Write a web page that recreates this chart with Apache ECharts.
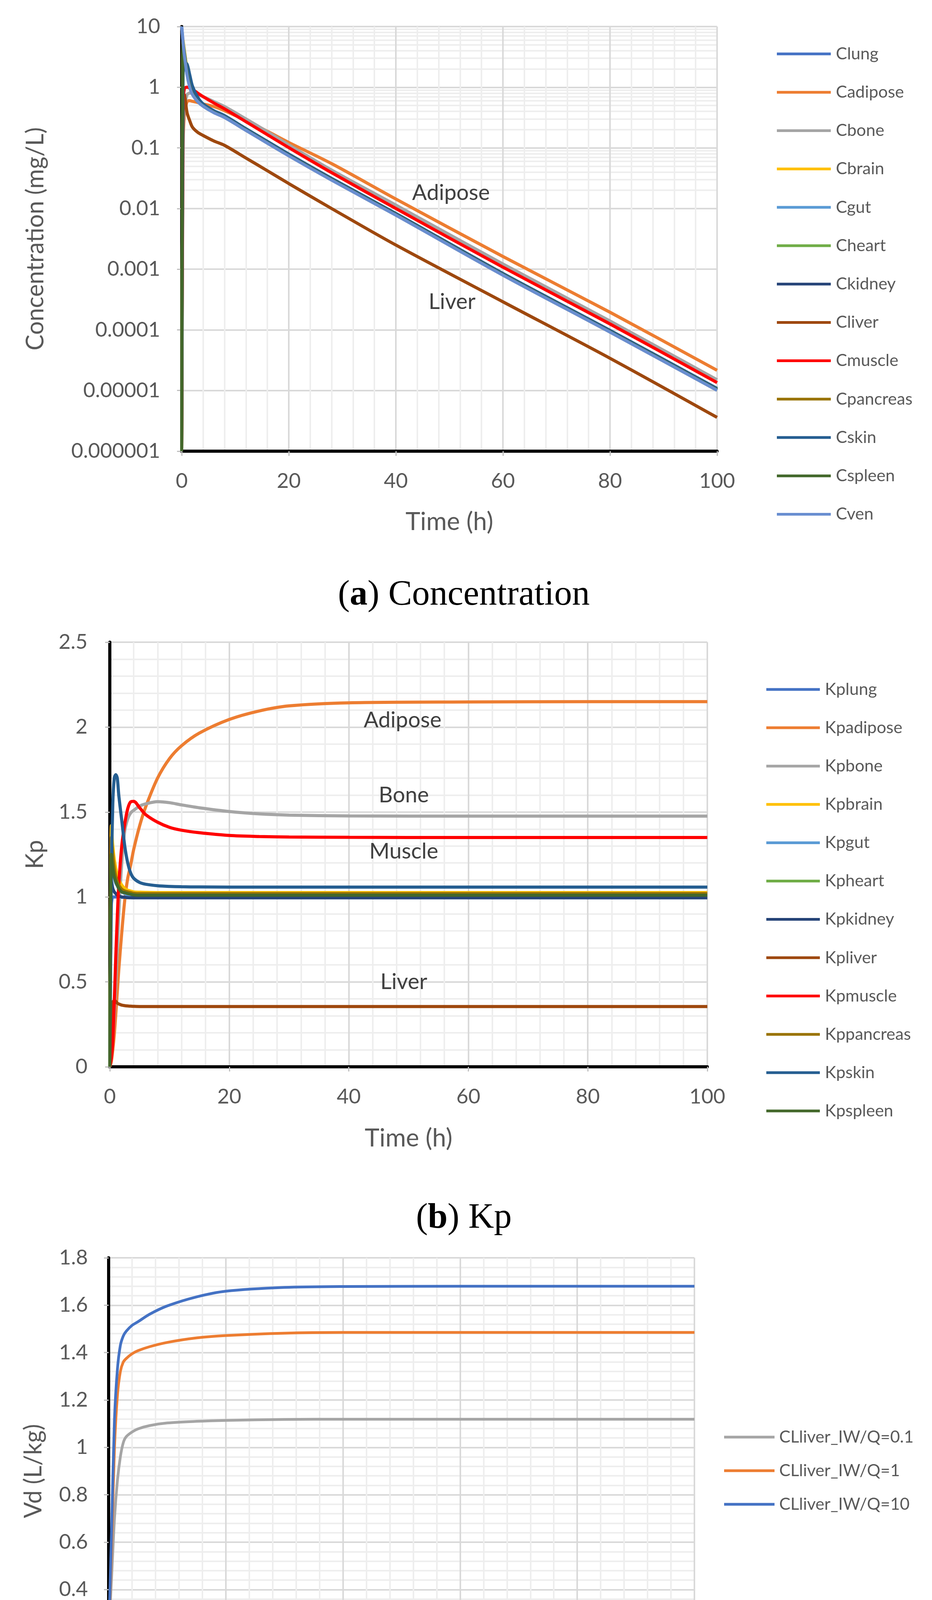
<!DOCTYPE html>
<html>
<head>
<meta charset="utf-8">
<script src="https://cdn.jsdelivr.net/npm/echarts@6/dist/echarts.min.js"></script>
<style>
html,body{margin:0;padding:0;background:#ffffff;}
#chart{width:2385px;height:4744px;}
</style>
</head>
<body>
<div id="chart"></div>
<script>
// ---------- Panel (a) Concentration ----------
const timeA = [0, 0.25, 0.5, 1, 1.5, 2, 3, 4, 6, 8, 12, 16, 20, 28, 40, 60, 80, 100];
const Clung     = [10, 5.6, 3.5, 1.65, 1.02, 0.77, 0.585, 0.49, 0.385, 0.32, 0.197, 0.121, 0.075, 0.0298, 0.0079, 0.00081, 0.000093, 0.0000102];
const Cadipose  = [0.000001, 0.1, 0.35, 0.58, 0.6, 0.585, 0.56, 0.53, 0.48, 0.41, 0.281, 0.1875, 0.1227, 0.055, 0.01435, 0.00162, 0.000195, 0.0000215];
const Cbone     = [0.000001, 0.15, 0.45, 0.75, 0.8, 0.8, 0.75, 0.7, 0.58, 0.48, 0.3, 0.185, 0.112, 0.043, 0.0114, 0.00122, 0.00014, 0.000015];
const Cbrain    = [0.000001, 6.0, 4.0, 1.9, 1.12, 0.8, 0.6, 0.5, 0.392, 0.327, 0.201, 0.124, 0.0765, 0.0304, 0.0081, 0.00083, 0.000095, 0.0000105];
const Cgut      = [0.000001, 4.5, 3.2, 1.7, 1.05, 0.78, 0.59, 0.492, 0.386, 0.321, 0.197, 0.121, 0.075, 0.0298, 0.0079, 0.00081, 0.000093, 0.0000102];
const Cheart    = [0.000001, 5.5, 3.8, 1.85, 1.1, 0.79, 0.595, 0.496, 0.39, 0.325, 0.2, 0.123, 0.076, 0.0302, 0.008, 0.00082, 0.000094, 0.0000104];
const Ckidney   = [0.000001, 5.0, 3.5, 1.7, 1.03, 0.77, 0.58, 0.488, 0.383, 0.318, 0.195, 0.12, 0.0745, 0.0296, 0.0078, 0.0008, 0.000092, 0.0000101];
const Cliver    = [0.000001, 0.3, 0.75, 0.38, 0.28, 0.22, 0.18, 0.16, 0.13, 0.11, 0.068, 0.042, 0.0258, 0.01, 0.0025, 0.00029, 0.000034, 0.0000036];
const Cmuscle   = [0.000001, 0.5, 0.95, 1.0, 0.97, 0.92, 0.8, 0.7, 0.55, 0.44, 0.27, 0.165, 0.101, 0.039, 0.01, 0.00108, 0.000125, 0.0000135];
const Cpancreas = [0.000001, 5.2, 3.7, 1.82, 1.08, 0.785, 0.592, 0.494, 0.389, 0.324, 0.199, 0.122, 0.0758, 0.0301, 0.00798, 0.00082, 0.000094, 0.0000103];
const Cskin     = [0.000001, 1.5, 2.6, 2.4, 1.6, 1.05, 0.68, 0.53, 0.41, 0.34, 0.207, 0.128, 0.079, 0.0314, 0.0083, 0.00085, 0.000098, 0.0000108];
const Cspleen   = [0.000001, 5.0, 3.6, 1.78, 1.06, 0.78, 0.59, 0.492, 0.387, 0.322, 0.198, 0.122, 0.0752, 0.03, 0.00795, 0.000815, 0.0000935, 0.0000103];
const Cven      = [10, 5.5, 3.4, 1.6, 1.0, 0.76, 0.58, 0.487, 0.382, 0.318, 0.195, 0.12, 0.074, 0.0295, 0.0078, 0.0008, 0.000092, 0.0000101];
const namesA = ['Clung','Cadipose','Cbone','Cbrain','Cgut','Cheart','Ckidney','Cliver','Cmuscle','Cpancreas','Cskin','Cspleen','Cven'];
const valuesA = [Clung, Cadipose, Cbone, Cbrain, Cgut, Cheart, Ckidney, Cliver, Cmuscle, Cpancreas, Cskin, Cspleen, Cven];
const yTickLabelsA = ['0.000001','0.00001','0.0001','0.001','0.01','0.1','1','10'];
const notesA = [['Adipose', 50.3, 0.018], ['Liver', 50.5, 0.00029]];

// ---------- Panel (b) Kp ----------
const timeB = [0, 0.25, 0.5, 0.75, 1, 1.25, 1.5, 2, 2.5, 3, 3.5, 4, 5, 6, 8, 10, 12, 15, 20, 25, 30, 40, 60, 80, 100];
const Kplung     = [0, 0.95, 1.0, 1.0, 1.0, 1.0, 0.999, 0.998, 0.997, 0.996, 0.996, 0.995, 0.995, 0.995, 0.995, 0.995, 0.995, 0.995, 0.995, 0.995, 0.995, 0.995, 0.995, 0.995, 0.995];
const Kpadipose  = [0, 0.03, 0.1, 0.19, 0.31, 0.44, 0.57, 0.79, 0.98, 1.11, 1.19, 1.28, 1.42, 1.53, 1.7, 1.815, 1.89, 1.965, 2.045, 2.095, 2.125, 2.143, 2.148, 2.15, 2.15];
const Kpbone     = [0, 0.05, 0.15, 0.3, 0.5, 0.7, 0.9, 1.2, 1.39, 1.46, 1.495, 1.51, 1.535, 1.548, 1.561, 1.555, 1.542, 1.525, 1.503, 1.489, 1.482, 1.477, 1.476, 1.476, 1.476];
const Kpbrain    = [0, 1.42, 1.3, 1.22, 1.17, 1.13, 1.1, 1.07, 1.05, 1.04, 1.035, 1.03, 1.028, 1.027, 1.026, 1.026, 1.026, 1.026, 1.026, 1.026, 1.026, 1.026, 1.026, 1.026, 1.026];
const Kpgut      = [0, 1.2, 1.15, 1.11, 1.08, 1.065, 1.05, 1.03, 1.02, 1.01, 1.006, 1.004, 1.002, 1.0, 1.0, 1.0, 1.0, 1.0, 1.0, 1.0, 1.0, 1.0, 1.0, 1.0, 1.0];
const Kpheart    = [0, 1.3, 1.2, 1.14, 1.1, 1.08, 1.06, 1.04, 1.03, 1.025, 1.021, 1.018, 1.016, 1.015, 1.015, 1.015, 1.015, 1.015, 1.015, 1.015, 1.015, 1.015, 1.015, 1.015, 1.015];
const Kpkidney   = [0, 1.1, 1.05, 1.03, 1.02, 1.01, 1.005, 1.0, 0.998, 0.996, 0.995, 0.995, 0.995, 0.995, 0.995, 0.995, 0.995, 0.995, 0.995, 0.995, 0.995, 0.995, 0.995, 0.995, 0.995];
const Kpliver    = [0, 0.3, 0.38, 0.39, 0.385, 0.375, 0.37, 0.363, 0.36, 0.358, 0.357, 0.356, 0.355, 0.355, 0.355, 0.355, 0.355, 0.355, 0.355, 0.355, 0.355, 0.355, 0.355, 0.355, 0.355];
const Kpmuscle   = [0, 0.05, 0.15, 0.38, 0.65, 0.88, 1.07, 1.3, 1.43, 1.52, 1.56, 1.563, 1.525, 1.485, 1.44, 1.41, 1.393, 1.378, 1.362, 1.356, 1.353, 1.351, 1.35, 1.35, 1.35];
const Kppancreas = [0, 1.35, 1.25, 1.17, 1.12, 1.09, 1.07, 1.045, 1.035, 1.03, 1.026, 1.022, 1.02, 1.02, 1.02, 1.02, 1.02, 1.02, 1.02, 1.02, 1.02, 1.02, 1.02, 1.02, 1.02];
const Kpskin     = [0, 1.1, 1.55, 1.7, 1.72, 1.7, 1.6, 1.45, 1.3, 1.2, 1.14, 1.11, 1.085, 1.075, 1.066, 1.062, 1.06, 1.059, 1.058, 1.058, 1.058, 1.058, 1.058, 1.058, 1.058];
const Kpspleen   = [0, 1.25, 1.17, 1.12, 1.09, 1.07, 1.05, 1.03, 1.025, 1.02, 1.016, 1.012, 1.01, 1.01, 1.01, 1.01, 1.01, 1.01, 1.01, 1.01, 1.01, 1.01, 1.01, 1.01, 1.01];
const namesB = ['Kplung','Kpadipose','Kpbone','Kpbrain','Kpgut','Kpheart','Kpkidney','Kpliver','Kpmuscle','Kppancreas','Kpskin','Kpspleen'];
const valuesB = [Kplung, Kpadipose, Kpbone, Kpbrain, Kpgut, Kpheart, Kpkidney, Kpliver, Kpmuscle, Kppancreas, Kpskin, Kpspleen];
const notesB = [['Adipose', 49.0, 2.04], ['Bone', 49.2, 1.598], ['Muscle', 49.2, 1.267], ['Liver', 49.2, 0.499]];

// ---------- Panel (c) Vd ----------
const timeC = [0, 0.5, 1, 1.5, 2, 2.5, 3, 4, 5, 7, 10, 15, 20, 30, 40, 60, 80, 100];
const VdQ01 = [0.2, 0.45, 0.7, 0.86, 0.96, 1.02, 1.045, 1.065, 1.078, 1.092, 1.103, 1.11, 1.114, 1.118, 1.119, 1.119, 1.119, 1.119];
const VdQ1  = [0.2, 0.58, 1.0, 1.22, 1.32, 1.36, 1.375, 1.395, 1.408, 1.425, 1.443, 1.462, 1.472, 1.482, 1.485, 1.485, 1.485, 1.485];
const VdQ10 = [0.2, 0.65, 1.12, 1.33, 1.43, 1.47, 1.49, 1.515, 1.53, 1.562, 1.597, 1.635, 1.659, 1.675, 1.679, 1.68, 1.68, 1.68];
const namesC = ['CLliver_IW/Q=0.1','CLliver_IW/Q=1','CLliver_IW/Q=10'];
const valuesC = [VdQ01, VdQ1, VdQ10];

// ---------- styling ----------
const colorsA = ['#4472C4','#ED7D31','#A5A5A5','#FFC000','#5B9BD5','#70AD47','#264478','#9E480E','#FF0000','#997300','#255E91','#43682B','#698ED0'];
const colorsB = colorsA.slice(0, 12);
const colorsC = ['#A5A5A5','#ED7D31','#4472C4'];

const FONT = 'Lato';
const GRAY_TXT = '#595959';
const MAJOR = '#d9d9d9';
const MINOR = '#eeeeee';

function zip(t, v) { return t.map((x, i) => [x, v[i]]); }

const logMinor = [];
for (let e = -6; e <= 0; e++) { for (let k = 2; k <= 9; k++) { logMinor.push(+(k * Math.pow(10, e)).toPrecision(3)); } }

function xAxisCfg(gridIndex, gap) {
  return {
    type: 'value', gridIndex: gridIndex, min: 0, max: 100, interval: 20,
    name: 'Time (h)', nameLocation: 'middle', nameGap: gap,
    nameTextStyle: {fontFamily: FONT, fontSize: 64, color: GRAY_TXT},
    axisLine: {show: true, onZero: false, lineStyle: {color: '#000', width: 8}},
    axisTick: {show: true, length: 12, lineStyle: {color: '#bfbfbf', width: 3}},
    axisLabel: {fontFamily: FONT, fontSize: 53, color: GRAY_TXT, margin: 50},
    splitLine: {show: true, lineStyle: {color: MAJOR, width: 4}},
    minorTick: {show: false, splitNumber: 5},
    minorSplitLine: {show: true, lineStyle: {color: MINOR, width: 4}},
    z: 2
  };
}

function lineSeries(name, t, v, color, xi, width) {
  return {
    name: name, type: 'line', xAxisIndex: xi, yAxisIndex: xi,
    data: zip(t, v), showSymbol: false, symbol: 'none', smooth: 0.3,
    lineStyle: {color: color, width: width}, itemStyle: {color: color},
    emphasis: {disabled: true}, z: 3, animation: false
  };
}

function notesSeries(xi, notes, withMinor) {
  const s = {
    type: 'line', xAxisIndex: xi, yAxisIndex: xi, data: [], silent: true,
    showSymbol: false, symbol: 'none', lineStyle: {opacity: 0}, z: 4,
    markPoint: {
      silent: true, symbol: 'circle', symbolSize: 0, itemStyle: {color: 'transparent'},
      label: {show: true, position: 'inside', formatter: '{b}', fontFamily: FONT, fontSize: 56, color: '#404040'},
      data: notes.map(n => ({name: n[0], coord: [n[1], n[2]]})), z: 4
    }
  };
  if (withMinor) {
    s.markLine = {
      silent: true, symbol: ['none', 'none'], z: 1, animation: false,
      label: {show: false}, emphasis: {disabled: true},
      lineStyle: {color: MINOR, width: 4, type: 'solid'},
      data: logMinor.map(v => ({yAxis: v}))
    };
  }
  return s;
}

function legendCfg(names, left, top, gap, width, pad, fontSize) {
  return {
    data: names, orient: 'vertical', left: left, top: top, icon: 'rect',
    itemWidth: width, itemHeight: 7, itemGap: gap, selectedMode: false,
    textStyle: {fontFamily: FONT, fontSize: fontSize, color: GRAY_TXT, lineHeight: 50, padding: [0, 0, 0, pad]}
  };
}

const series = [];
namesA.forEach((n, i) => series.push(lineSeries(n, timeA, valuesA[i], colorsA[i], 0, 8)));
series.push(notesSeries(0, notesA, true));
namesB.forEach((n, i) => series.push(lineSeries(n, timeB, valuesB[i], colorsB[i], 1, 8)));
series.push(notesSeries(1, notesB, false));
namesC.forEach((n, i) => series.push(lineSeries(n, timeC, valuesC[i], colorsC[i], 2, 7)));

const capStyle = {fontFamily: 'Liberation Serif', fontSize: 91, color: '#000', fontWeight: 'normal'};
function caption(letter, rest, top) {
  return {
    text: '(' + '{b|' + letter + '}) ' + rest, left: 1182, top: top, textAlign: 'center',
    textStyle: Object.assign({}, capStyle, {rich: {b: Object.assign({}, capStyle, {fontWeight: 'bold'})}})
  };
}

const option = {
  animation: false,
  backgroundColor: '#ffffff',
  title: [caption('a', 'Concentration', 1474), caption('b', 'Kp', 3069), caption('c', 'Vd', 4631)],
  grid: [
    {left: 465, top: 68, width: 1370, height: 1087, containLabel: false},
    {left: 281, top: 1644, width: 1529, height: 1087, containLabel: false},
    {left: 278, top: 3220, width: 1499, height: 1092, containLabel: false}
  ],
  xAxis: [xAxisCfg(0, 149), xAxisCfg(1, 151), xAxisCfg(2, 146)],
  yAxis: [
    {
      type: 'log', logBase: 10, gridIndex: 0, min: 0.000001, max: 10, splitNumber: 7,
      name: 'Concentration (mg/L)', nameLocation: 'middle', nameGap: 343,
      nameTextStyle: {fontFamily: FONT, fontSize: 61, color: GRAY_TXT},
      axisLine: {show: true, onZero: false, lineStyle: {color: '#000', width: 8}},
      axisTick: {show: true, length: 12, lineStyle: {color: '#bfbfbf', width: 3}},
      axisLabel: {fontFamily: FONT, fontSize: 53, color: GRAY_TXT, margin: 55,
        formatter: v => yTickLabelsA[Math.round(Math.log10(v)) + 6]},
      splitLine: {show: true, lineStyle: {color: MAJOR, width: 4}},
      z: 2
    },
    {
      type: 'value', gridIndex: 1, min: 0, max: 2.5, interval: 0.5,
      name: 'Kp', nameLocation: 'middle', nameGap: 160,
      nameTextStyle: {fontFamily: FONT, fontSize: 61, color: GRAY_TXT},
      axisLine: {show: true, onZero: false, lineStyle: {color: '#000', width: 8}},
      axisTick: {show: true, length: 12, lineStyle: {color: '#bfbfbf', width: 3}},
      axisLabel: {fontFamily: FONT, fontSize: 53, color: GRAY_TXT, margin: 57},
      splitLine: {show: true, lineStyle: {color: MAJOR, width: 4}},
      minorTick: {show: false, splitNumber: 5},
      minorSplitLine: {show: true, lineStyle: {color: MINOR, width: 4}},
      z: 2
    },
    {
      type: 'value', gridIndex: 2, min: 0, max: 1.8, interval: 0.2,
      name: 'Vd (L/kg)', nameLocation: 'middle', nameGap: 161,
      nameTextStyle: {fontFamily: FONT, fontSize: 61, color: GRAY_TXT},
      axisLine: {show: true, onZero: false, lineStyle: {color: '#000', width: 8}},
      axisTick: {show: true, length: 12, lineStyle: {color: '#bfbfbf', width: 3}},
      axisLabel: {fontFamily: FONT, fontSize: 53, color: GRAY_TXT, margin: 53},
      splitLine: {show: true, lineStyle: {color: MAJOR, width: 4}},
      minorTick: {show: false, splitNumber: 5},
      minorSplitLine: {show: true, lineStyle: {color: MINOR, width: 4}},
      z: 2
    }
  ],
  legend: [
    legendCfg(namesA, 1983, 108, 48.2, 138, 8, 43),
    legendCfg(namesB, 1956, 1735, 48.1, 137, 8, 43),
    legendCfg(namesC, 1848, 3649, 36, 129, 7, 43)
  ],
  series: series
};

const chart = echarts.init(document.getElementById('chart'), null, {renderer: 'canvas'});
chart.setOption(option);
</script>
</body>
</html>
